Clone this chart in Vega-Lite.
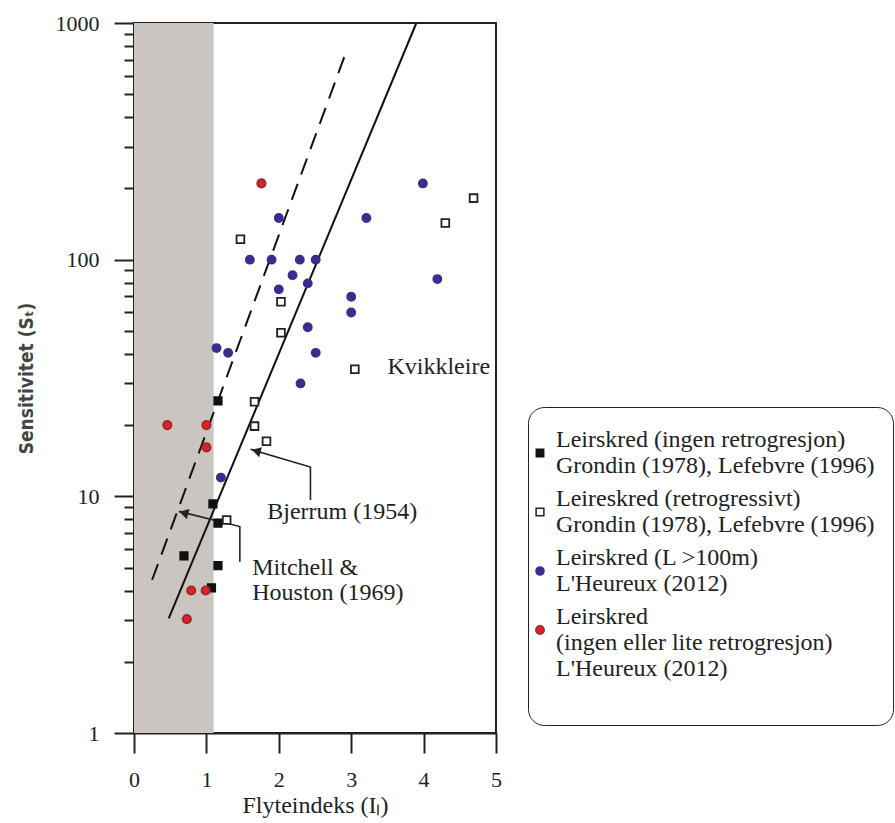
{
  "$schema": "https://vega.github.io/schema/vega-lite/v6.json",
  "width": 362,
  "height": 710,
  "autosize": "none",
  "padding": {"left": 134, "top": 23, "right": 399, "bottom": 90},
  "background": "white",
  "config": {"view": {"stroke": "#222", "strokeWidth": 2}},
  "resolve": {"axis": {"y": "independent"}},
  "datasets": {
    "band": [{"x0": 0, "x1": 1.1, "y0": 1, "y1": 1000}],
    "lines": [
      {"line": "Bjerrum", "x": 0.48, "y": 3.05},
      {"line": "Bjerrum", "x": 3.9, "y": 1000},
      {"line": "Mitchell", "x": 0.25, "y": 4.43},
      {"line": "Mitchell", "x": 2.94, "y": 769}
    ],
    "arrows": [
      {"arrow": "B", "o": 1, "x": 2.437, "y": 9.64},
      {"arrow": "B", "o": 2, "x": 2.437, "y": 13.3},
      {"arrow": "B", "o": 3, "x": 1.61, "y": 15.8},
      {"arrow": "M", "o": 1, "x": 1.462, "y": 5.29},
      {"arrow": "M", "o": 2, "x": 1.462, "y": 7.45},
      {"arrow": "M", "o": 3, "x": 0.62, "y": 8.64}
    ],
    "heads": [
      {"x": 1.687, "y": 15.54},
      {"x": 0.688, "y": 8.51}
    ],
    "notes": [
      {"text": "Kvikkleire", "x": 3.5, "y": 35.2},
      {"text": "Bjerrum (1954)", "x": 1.84, "y": 8.61},
      {"text": "Mitchell &", "x": 1.633, "y": 4.96},
      {"text": "Houston (1969)", "x": 1.633, "y": 3.89}
    ],
    "points": [
      {"s": "Leirskred (ingen retrogresjon)|Grondin (1978), Lefebvre (1996)", "x": 1.16, "y": 25.3},
      {"s": "Leirskred (ingen retrogresjon)|Grondin (1978), Lefebvre (1996)", "x": 1.09, "y": 9.3},
      {"s": "Leirskred (ingen retrogresjon)|Grondin (1978), Lefebvre (1996)", "x": 1.16, "y": 7.7},
      {"s": "Leirskred (ingen retrogresjon)|Grondin (1978), Lefebvre (1996)", "x": 0.69, "y": 5.6},
      {"s": "Leirskred (ingen retrogresjon)|Grondin (1978), Lefebvre (1996)", "x": 1.16, "y": 5.1},
      {"s": "Leirskred (ingen retrogresjon)|Grondin (1978), Lefebvre (1996)", "x": 1.07, "y": 4.1},
      {"s": "Leireskred (retrogressivt)|Grondin (1978), Lefebvre (1996)", "x": 1.47, "y": 122},
      {"s": "Leireskred (retrogressivt)|Grondin (1978), Lefebvre (1996)", "x": 4.69, "y": 182},
      {"s": "Leireskred (retrogressivt)|Grondin (1978), Lefebvre (1996)", "x": 4.3, "y": 143},
      {"s": "Leireskred (retrogressivt)|Grondin (1978), Lefebvre (1996)", "x": 2.03, "y": 66.4},
      {"s": "Leireskred (retrogressivt)|Grondin (1978), Lefebvre (1996)", "x": 2.03, "y": 49.1},
      {"s": "Leireskred (retrogressivt)|Grondin (1978), Lefebvre (1996)", "x": 3.05, "y": 34.4},
      {"s": "Leireskred (retrogressivt)|Grondin (1978), Lefebvre (1996)", "x": 1.665, "y": 25.1},
      {"s": "Leireskred (retrogressivt)|Grondin (1978), Lefebvre (1996)", "x": 1.665, "y": 19.8},
      {"s": "Leireskred (retrogressivt)|Grondin (1978), Lefebvre (1996)", "x": 1.83, "y": 17.1},
      {"s": "Leireskred (retrogressivt)|Grondin (1978), Lefebvre (1996)", "x": 1.28, "y": 7.94},
      {"s": "Leirskred (L >100m)|L'Heureux (2012)", "x": 3.99, "y": 210},
      {"s": "Leirskred (L >100m)|L'Heureux (2012)", "x": 2.0, "y": 150},
      {"s": "Leirskred (L >100m)|L'Heureux (2012)", "x": 3.21, "y": 150},
      {"s": "Leirskred (L >100m)|L'Heureux (2012)", "x": 1.6, "y": 100},
      {"s": "Leirskred (L >100m)|L'Heureux (2012)", "x": 1.9, "y": 100},
      {"s": "Leirskred (L >100m)|L'Heureux (2012)", "x": 2.29, "y": 100},
      {"s": "Leirskred (L >100m)|L'Heureux (2012)", "x": 2.51, "y": 100},
      {"s": "Leirskred (L >100m)|L'Heureux (2012)", "x": 2.19, "y": 86},
      {"s": "Leirskred (L >100m)|L'Heureux (2012)", "x": 2.4, "y": 79.4},
      {"s": "Leirskred (L >100m)|L'Heureux (2012)", "x": 2.0, "y": 74.9},
      {"s": "Leirskred (L >100m)|L'Heureux (2012)", "x": 4.19, "y": 82.8},
      {"s": "Leirskred (L >100m)|L'Heureux (2012)", "x": 3.0, "y": 69.7},
      {"s": "Leirskred (L >100m)|L'Heureux (2012)", "x": 3.0, "y": 59.8},
      {"s": "Leirskred (L >100m)|L'Heureux (2012)", "x": 2.4, "y": 51.8},
      {"s": "Leirskred (L >100m)|L'Heureux (2012)", "x": 1.14, "y": 42.3},
      {"s": "Leirskred (L >100m)|L'Heureux (2012)", "x": 1.3, "y": 40.4},
      {"s": "Leirskred (L >100m)|L'Heureux (2012)", "x": 2.51, "y": 40.4},
      {"s": "Leirskred (L >100m)|L'Heureux (2012)", "x": 2.3, "y": 30},
      {"s": "Leirskred (L >100m)|L'Heureux (2012)", "x": 1.2, "y": 12.0},
      {"s": "Leirskred|(ingen eller lite retrogresjon)|L'Heureux (2012)", "x": 1.76, "y": 210},
      {"s": "Leirskred|(ingen eller lite retrogresjon)|L'Heureux (2012)", "x": 0.46, "y": 20},
      {"s": "Leirskred|(ingen eller lite retrogresjon)|L'Heureux (2012)", "x": 1.0, "y": 20},
      {"s": "Leirskred|(ingen eller lite retrogresjon)|L'Heureux (2012)", "x": 1.0, "y": 16.1},
      {"s": "Leirskred|(ingen eller lite retrogresjon)|L'Heureux (2012)", "x": 0.79, "y": 4.0},
      {"s": "Leirskred|(ingen eller lite retrogresjon)|L'Heureux (2012)", "x": 0.99, "y": 4.0},
      {"s": "Leirskred|(ingen eller lite retrogresjon)|L'Heureux (2012)", "x": 0.73, "y": 3.03}
    ]
  },
  "layer": [
    {
      "data": {"name": "band"},
      "mark": {"type": "rect", "color": "#cbc5c1"},
      "encoding": {
        "x": {
          "field": "x0", "type": "quantitative",
          "scale": {"domain": [0, 5], "nice": false, "zero": false},
          "axis": {
            "title": "Flyteindeks (Iₗ)",
            "values": [0, 0.5, 1, 1.5, 2, 2.5, 3, 3.5, 4, 4.5, 5],
            "labelExpr": "datum.value % 1 === 0 ? format(datum.value, 'd') : ''",
            "tickSize": {"condition": {"test": "datum.value % 1 === 0", "value": 20}, "value": 9},
            "grid": false,
            "domainColor": "#222", "domainWidth": 2,
            "tickColor": "#222", "tickWidth": 2,
            "labelFont": "Liberation Serif", "labelFontSize": 22, "labelColor": "#222",
            "labelPadding": 16, "labelFlush": false, "labelOverlap": false,
            "titleFont": "Liberation Serif", "titleFontSize": 24, "titleFontWeight": "normal",
            "titleColor": "#222", "titlePadding": 3
          }
        },
        "x2": {"field": "x1"},
        "y": {
          "field": "y0", "type": "quantitative",
          "scale": {"type": "log", "domain": [1, 1000], "nice": false},
          "axis": {
            "orient": "left",
            "title": "Sensitivitet (Sₜ)",
            "values": [1, 10, 100, 1000],
            "format": "d",
            "tickSize": 20,
            "labelPadding": 15,
            "grid": false,
            "domainColor": "#222", "domainWidth": 2,
            "tickColor": "#222", "tickWidth": 2,
            "labelFont": "Liberation Serif", "labelFontSize": 22, "labelColor": "#222",
            "labelFlush": false, "labelOverlap": false,
            "titleFont": "DejaVu Sans Condensed", "titleFontSize": 19, "titleFontWeight": "bold",
            "titleColor": "#444", "titlePadding": 19
          }
        },
        "y2": {"field": "y1"}
      }
    },
    {
      "mark": {"type": "rule", "color": "#888", "strokeWidth": 1.2, "strokeDash": [12, 8]},
      "encoding": {
        "y": {
          "datum": 30, "type": "quantitative",
          "axis": {
            "orient": "left",
            "title": null,
            "values": [2, 3, 4, 5, 6, 7, 8, 9, 20, 30, 40, 50, 60, 70, 80, 90, 200, 300, 400, 500, 600, 700, 800, 900],
            "labels": false,
            "domain": false,
            "grid": false,
            "tickSize": 10,
            "tickColor": "#222", "tickWidth": 2
          }
        }
      }
    },
    {
      "data": {"name": "lines"},
      "transform": [{"filter": "datum.line === 'Bjerrum'"}],
      "mark": {"type": "line", "color": "#111", "strokeWidth": 2},
      "encoding": {
        "x": {"field": "x", "type": "quantitative"},
        "y": {"field": "y", "type": "quantitative", "axis": null}
      }
    },
    {
      "data": {"name": "lines"},
      "transform": [{"filter": "datum.line === 'Mitchell'"}],
      "mark": {"type": "line", "color": "#111", "strokeWidth": 2, "strokeDash": [17, 10]},
      "encoding": {
        "x": {"field": "x", "type": "quantitative"},
        "y": {"field": "y", "type": "quantitative", "axis": null}
      }
    },
    {
      "data": {"name": "arrows"},
      "mark": {"type": "line", "color": "#222", "strokeWidth": 1.6},
      "encoding": {
        "x": {"field": "x", "type": "quantitative"},
        "y": {"field": "y", "type": "quantitative", "axis": null},
        "detail": {"field": "arrow"},
        "order": {"field": "o"}
      }
    },
    {
      "data": {"name": "heads"},
      "mark": {"type": "point", "shape": "triangle-left", "filled": true, "color": "#222", "size": 110, "angle": 15, "opacity": 1},
      "encoding": {
        "x": {"field": "x", "type": "quantitative"},
        "y": {"field": "y", "type": "quantitative", "axis": null}
      }
    },
    {
      "data": {"name": "notes"},
      "mark": {"type": "text", "align": "left", "baseline": "middle", "font": "Liberation Serif", "fontSize": 24, "color": "#222"},
      "encoding": {
        "x": {"field": "x", "type": "quantitative"},
        "y": {"field": "y", "type": "quantitative", "axis": null},
        "text": {"field": "text"}
      }
    },
    {
      "data": {"name": "points"},
      "mark": {"type": "point", "filled": true, "strokeWidth": 1.8, "opacity": 1},
      "encoding": {
        "x": {"field": "x", "type": "quantitative"},
        "y": {"field": "y", "type": "quantitative", "axis": null},
        "fill": {
          "field": "s", "type": "nominal",
          "scale": {
            "domain": ["Leirskred (ingen retrogresjon)|Grondin (1978), Lefebvre (1996)", "Leireskred (retrogressivt)|Grondin (1978), Lefebvre (1996)", "Leirskred (L >100m)|L'Heureux (2012)", "Leirskred|(ingen eller lite retrogresjon)|L'Heureux (2012)"],
            "range": ["#111111", "#ffffff", "#3d2b8e", "#e0202a"]
          },
          "legend": {
            "orient": "none", "legendX": 394, "legendY": 384,
            "title": " ", "titleOrient": "top", "titleFontSize": 10, "titlePadding": 6,
            "labelExpr": "indexof(datum.label, 'ingen eller') >= 0 ? split(datum.label + '| ', '|') : split(datum.label, '|')",
            "labelFont": "Liberation Serif", "labelFontSize": 24, "labelColor": "#222",
            "labelBaseline": "line-bottom",
            "labelLimit": 0, "labelOffset": 4, "rowPadding": 9,
            "symbolOffset": -18,
            "padding": 18, "strokeColor": "#222", "cornerRadius": 16, "fillColor": "white",
            "encode": {
              "labels": {"lineHeight": {"value": 25}},
              "legend": {"strokeWidth": {"value": 2}}
            }
          }
        },
        "stroke": {
          "field": "s", "type": "nominal",
          "scale": {
            "domain": ["Leirskred (ingen retrogresjon)|Grondin (1978), Lefebvre (1996)", "Leireskred (retrogressivt)|Grondin (1978), Lefebvre (1996)", "Leirskred (L >100m)|L'Heureux (2012)", "Leirskred|(ingen eller lite retrogresjon)|L'Heureux (2012)"],
            "range": ["#111111", "#222222", "#3d2b8e", "#9a2a2a"]
          }
        },
        "shape": {
          "field": "s", "type": "nominal",
          "scale": {
            "domain": ["Leirskred (ingen retrogresjon)|Grondin (1978), Lefebvre (1996)", "Leireskred (retrogressivt)|Grondin (1978), Lefebvre (1996)", "Leirskred (L >100m)|L'Heureux (2012)", "Leirskred|(ingen eller lite retrogresjon)|L'Heureux (2012)"],
            "range": ["square", "square", "circle", "circle"]
          }
        },
        "size": {
          "field": "s", "type": "nominal",
          "scale": {
            "domain": ["Leirskred (ingen retrogresjon)|Grondin (1978), Lefebvre (1996)", "Leireskred (retrogressivt)|Grondin (1978), Lefebvre (1996)", "Leirskred (L >100m)|L'Heureux (2012)", "Leirskred|(ingen eller lite retrogresjon)|L'Heureux (2012)"],
            "range": [55, 70, 95, 70]
          }
        }
      }
    }
  ]
}
